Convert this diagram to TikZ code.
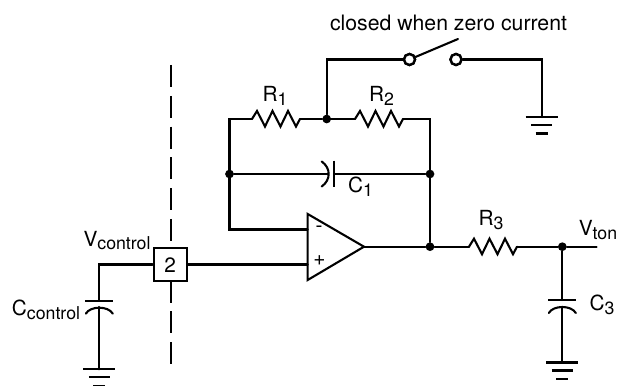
\documentclass[tikz,border=0pt]{standalone}
\usepackage{fontspec}
\setmainfont{TeX Gyre Heros}
\usetikzlibrary{positioning}

\tikzset{
    wire/.style = {line width=1.48pt, line cap=round, line join=miter},
    dot/.style = {circle, fill=black, inner sep=0pt, minimum size=6.2pt},
    term/.style = {circle, draw, fill=white, line width=1.7pt, inner sep=0pt, minimum size=7.8pt},
    lbl/.style = {inner sep=0pt, font=\fontsize{14.8}{17}\selectfont},
    resistor/.pic = {
        \draw [wire] (0, 0) -- (5, -8) -- (13, 7.5) -- (20.5, -8) -- (28.5, 7.5) -- (36, -8) -- (44, 7.5) -- (48, 0);
    },
    ground/.pic = {
        \draw [wire, line cap=butt] (-16, 0) -- (16, 0);
        \draw [wire, line cap=butt] (-10.5, 8) -- (10.5, 8);
        \draw [wire, line cap=butt] (-6, 16.5) -- (6, 16.5);
    },
    capdown/.pic = {
        \draw [wire, line cap=butt] (-14, 0) -- (14, 0);
        \draw [wire] (-13.5, 13) .. controls (-9, 5) and (9, 5) .. (13.5, 13);
    }
}
\newcommand{\lowtext}[1]{\raisebox{-.35ex}{\fontsize{12.6}{14}\selectfont #1}}

\begin{document}
\begin{tikzpicture}[x=.025cm, y=-.025cm]
    \useasboundingbox (0, 0) rectangle (618, 386);

    % switch
    \node [term] (swa) at (409.5, 59.5) {};
    \node [term] (swb) at (456, 59.5) {};
    \coordinate (swtip) at (458, 39);
    \coordinate (swtop) at (326.7, 59.5);
    \coordinate (gndtop) at (541.7, 59.5);
    \coordinate (gndone) at (541.7, 117);

    % feedback
    \coordinate (fbleft) at (229.5, 119);
    \node [dot] (fbmid) at (326.7, 119) {};
    \coordinate (fbright) at (430, 119);
    \node [dot] (capleft) at (229.5, 174) {};
    \node [dot] (capright) at (430, 174) {};
    \coordinate (ronea) at (252, 119);
    \coordinate (roneb) at (300, 119);
    \coordinate (rtwoa) at (355, 119);
    \coordinate (rtwob) at (403, 119);
    \coordinate (conecurve) at (328, 174);
    \coordinate (coneplate) at (334, 174);

    % op amp
    \coordinate (ampa) at (307.7, 214);
    \coordinate (ampb) at (307.7, 280);
    \coordinate (amptip) at (364, 246.7);
    \coordinate (minus) at (307.7, 229.5);
    \coordinate (plus) at (307.7, 264.5);
    \coordinate (minusleft) at (229.5, 229.5);
    \node [dot] (outdot) at (430, 246.7) {};

    % output side
    \coordinate (rthreea) at (469, 246.7);
    \coordinate (rthreeb) at (517, 246.7);
    \node [dot] (tondot) at (562.3, 246.7) {};
    \coordinate (tonend) at (596.7, 246.7);
    \coordinate (cthree) at (562.3, 300);
    \coordinate (gndthree) at (562.3, 362.5);

    % control side
    \coordinate (dashtop) at (171.3, 65);
    \coordinate (dashbottom) at (171.3, 364);
    \draw [wire, line cap=butt, dash pattern=on 15.7pt off 6.2pt] (dashtop) -- (dashbottom);
    \node [draw, wire, fill=white, minimum size=23.6pt, inner sep=0pt, lbl] (box) at (170.2, 264.8) {2};
    \coordinate (ctlcorner) at (99.3, 264.5);
    \coordinate (boxleft) at (box.west |- ctlcorner);
    \coordinate (boxright) at (box.east |- plus);
    \coordinate (ctlcap) at (99.3, 300.7);
    \coordinate (gndctl) at (99.3, 369.3);

    \draw [wire] (swa) -- (swtop) -- (fbmid);
    \draw [wire] (swa) -- (swtip);
    \draw [wire] (swb) -- (gndtop) -- (gndone);
    \pic at (gndone) {ground};
    \node [term] at (swa) {};
    \node [term] at (swb) {};

    \draw [wire] (minus) -- (minusleft) -- (fbleft) -- (ronea);
    \draw [wire] (roneb) -- (fbmid) -- (rtwoa);
    \draw [wire] (rtwob) -- (fbright) -- (outdot);
    \pic at (ronea) {resistor};
    \pic at (rtwoa) {resistor};
    \draw [wire] (capleft) -- (conecurve);
    \draw [wire] (coneplate) -- (capright);
    \draw [wire] (321.7, 161.5) .. controls (331, 168) and (331, 180) .. (321.7, 186.5);
    \draw [wire, line cap=butt] (334, 160.7) -- (334, 187.3);

    \draw [wire] (ampa) -- (ampb) -- (amptip) -- cycle;
    \draw [wire] (amptip) -- (outdot) -- (rthreea);
    \pic at (rthreea) {resistor};
    \draw [wire] (rthreeb) -- (tondot) -- (tonend);
    \draw [wire] (tondot) -- (cthree);
    \pic at (cthree) {capdown};
    \draw [wire] (562.3, 307) -- (gndthree);
    \pic at (gndthree) {ground};

    \draw [wire] (boxright) -- (plus);
    \draw [wire] (boxleft) -- (ctlcorner) -- (ctlcap);
    \pic at (ctlcap) {capdown};
    \draw [wire] (99.3, 307) -- (gndctl);
    \pic at (gndctl) {ground};

    \node [lbl, font=\fontsize{15.1}{17}\selectfont] (swlabel) at (448.5, 22.5) {closed when zero current};
    \node [lbl] (ronelabel) at (275, 96) {R\lowtext{1}};
    \node [lbl] (rtwolabel) at (381.5, 96) {R\lowtext{2}};
    \node [lbl] (conelabel) at (360.5, 187) {C\lowtext{1}};
    \node [lbl] (rthreelabel) at (491, 220) {R\lowtext{3}};
    \node [lbl] (tonlabel) at (598, 230) {V\lowtext{ton}};
    \node [lbl] (cthreelabel) at (602, 304.5) {C\lowtext{3}};
    \node [lbl] (ctllabel) at (117, 240.5) {V\lowtext{control}};
    \node [lbl] (cctllabel) at (46, 310) {C\lowtext{control}};

    \node [lbl] at (319, 229) {-};
    \node [lbl] at (319.5, 261) {+};
\end{tikzpicture}
\end{document}
